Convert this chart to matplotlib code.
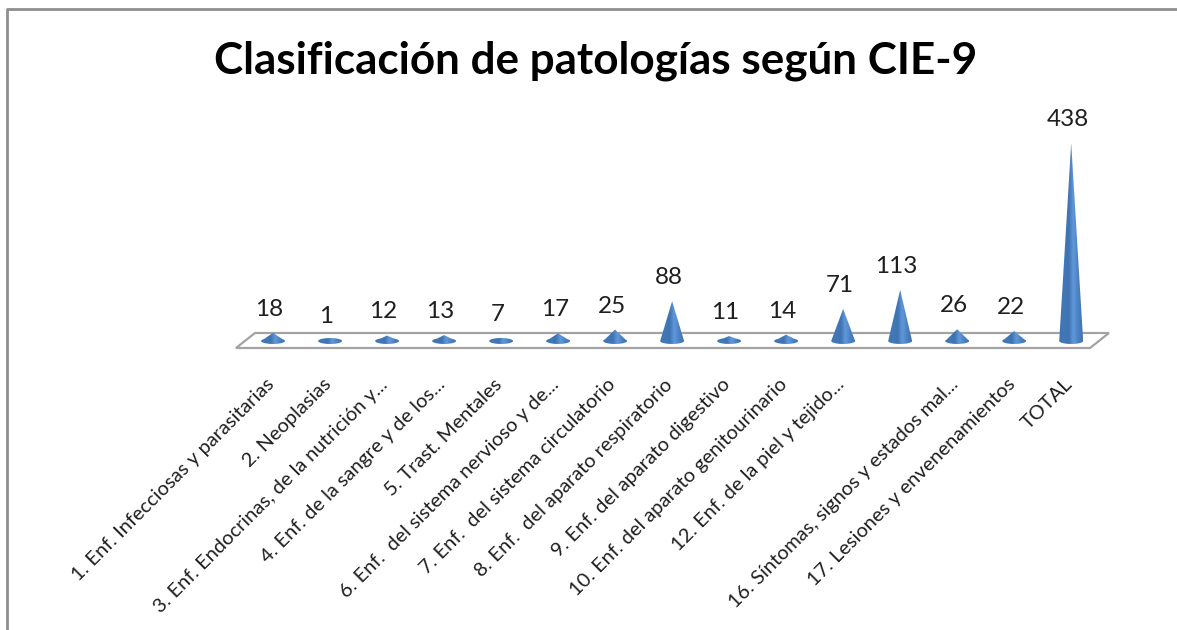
import numpy as np
import matplotlib
matplotlib.use("Agg")
import matplotlib.pyplot as plt
from matplotlib.colors import LinearSegmentedColormap
from matplotlib.lines import Line2D
from matplotlib.patches import PathPatch, Polygon
from matplotlib.path import Path
from matplotlib.transforms import ScaledTranslation

categorias = [
    "1. Enf. Infecciosas y parasitarias",
    "2. Neoplasias",
    "3. Enf. Endocrinas, de la nutrición y...",
    "4. Enf. de la sangre y de los...",
    "5. Trast. Mentales",
    "6. Enf.  del sistema nervioso y de...",
    "7. Enf.  del sistema circulatorio",
    "8. Enf.  del aparato respiratorio",
    "9. Enf. del aparato digestivo",
    "10. Enf. del aparato genitourinario",
    "12. Enf. de la piel y tejido...",
    "16. Síntomas, signos y estados mal...",
    "17. Lesiones y envenenamientos",
    "TOTAL",
]
# hay un hueco en el eje entre 12 y 16: esa categoria no tiene etiqueta visible
etiquetas = categorias[:11] + [""] + categorias[11:]
valores = [18, 1, 12, 13, 7, 17, 25, 88, 11, 14, 71, 113, 26, 22, 438]

plt.rcParams["font.family"] = ["Lato", "DejaVu Sans"]

fig = plt.figure(figsize=(11.77, 6.3), dpi=100)
# marco: solo arriba y a la izquierda, el resto queda fuera de la captura
fig.add_artist(Line2D([6.5 / 1177, 6.5 / 1177, 1], [0, 1 - 9 / 630, 1 - 9 / 630],
                      color="#8e8e8e", lw=2, transform=fig.transFigure))

ax = fig.add_axes([236 / 1177, (630 - 348) / 630, 854 / 1177, 288 / 630])
xlim = (-0.65, 14.33)
ylim = (-15.5, 621.7)

# suelo del grafico
ax.add_patch(Polygon([(0, 0), (1, 0), (1 + 19 / 854, 15 / 288), (19 / 854, 15 / 288)],
                     closed=True, fc="white", ec="#a3a3a3", lw=1.6,
                     transform=ax.transAxes, clip_on=False))

azul = LinearSegmentedColormap.from_list(
    "cono", ["#3f74b2", "#4378b8", "#3f73b1", "#5f98da", "#4c82c2", "#3f73b1"])
grad = np.linspace(0, 1, 128).reshape(1, -1)

ancho = 0.21
elipse = 6.6
for i, v in enumerate(valores):
    xs = np.linspace(-ancho, ancho, 81)
    curva = np.sqrt(1 - (xs / ancho) ** 2)
    arriba = np.maximum(v * (1 - np.abs(xs) / ancho), elipse * curva)
    abajo = -elipse * curva
    verts = np.r_[np.c_[i + xs, arriba], np.c_[i + xs[::-1], abajo[::-1]]]
    im = ax.imshow(grad, cmap=azul, aspect="auto", zorder=3,
                   extent=(i - ancho, i + ancho, -elipse, max(v, elipse)))
    im.set_clip_path(PathPatch(Path(verts), transform=ax.transData))
    ax.annotate(str(v), (i, v), xytext=(-2.5, 17), textcoords="offset points",
                ha="center", va="center", fontsize=17.5, color="#1f1f1f")

ax.set_xlim(xlim)
ax.set_ylim(ylim)
ax.set_yticks([])
ax.set_xticks(range(len(etiquetas)))
ax.set_xticklabels(etiquetas, rotation=45, ha="right", rotation_mode="anchor",
                   fontsize=14.4, color="#1f1f1f")
ax.tick_params(axis="x", length=0, pad=20)
desplaza = ScaledTranslation(-8 / 100, 0, fig.dpi_scale_trans)
for t in ax.get_xticklabels():
    t.set_transform(t.get_transform() + desplaza)
for s in ax.spines.values():
    s.set_visible(False)
ax.patch.set_alpha(0)

fig.text(596 / 1177, 1 - 61 / 630, "Clasificación de patologías según CIE-9",
         ha="center", va="center", fontsize=31.7, fontweight="bold", color="black")

fig.savefig("out.png", dpi=100)
